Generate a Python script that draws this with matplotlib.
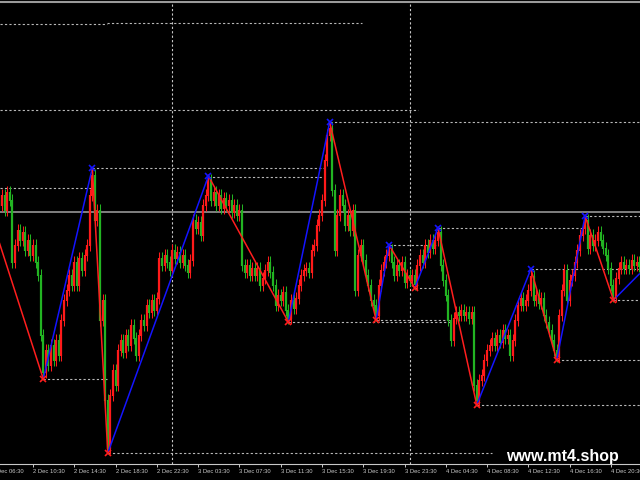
import matplotlib
matplotlib.use("Agg")
import matplotlib.pyplot as plt
import numpy as np

# ---------------- data ----------------
# bar index k: time = 2 Dec 06:30 + 15 min * k (M15 bars, with session gaps)
first_bar = 2
closes = [
    280, 275, 285, 270, 288, 280, 218, 235, 250, 240, 248, 230, 240, 225, 235, 218, 205, 145,   # k2-19
    108, 130, 115, 135, 120, 140, 125, 160, 180, 190, 205, 195, 218, 195, 222, 210, 225, 235,   # k20-37
    285, 305, 260, 270, 160, 180, 80, 32, 85, 110, 95, 130, 140, 128, 145, 135, 155, 142,       # k38-55
    125, 145, 160, 155, 175, 168, 180, 170, 182, 222, 215, 225, 218, 210, 230, 222, 228, 218,   # k56-73
    225, 215, 208, 220, 260, 252, 258, 245, 275, 285, 300, 280, 288, 275, 285, 272, 282, 275,   # k74-91
    280, 268, 275, 265, 270, 215, 208, 215, 205, 212, 205, 212, 195, 202, 210, 218, 208, 195,   # k92-109
    175, 185, 180, 188, 170, 162, 180, 172, 182, 195, 205, 210, 212, 208, 230, 235, 255, 265,   # k110-127
    280, 320, 345, 352, 290, 230, 265, 285, 275, 255, 265, 250, 270, 190, 225, 235, 220, 205,   # k128-145
    195, 180, 175, 165, 195, 210, 218, 225, 230, 218, 205, 215, 210, 218, 198, 205, 200, 205,   # k146-163
    196, 215, 225, 218, 235, 228, 240, 232, 240, 248, 215, 200, 185, 160, 140, 162, 168, 165,   # k164-181
    170, 165, 168, 162, 168, 95, 80, 100, 105, 120, 130, 135, 142, 135, 145, 138, 150, 142,     # k182-199
    145, 125, 140, 160, 175, 182, 175, 180, 190, 204, 180, 185, 177, 182, 165, 158, 150, 140,   # k200-217
    130, 124, 165, 190, 210, 180, 200, 205, 218, 230, 245, 252, 260, 232, 245, 235, 240, 248,   # k218-235
    240, 232, 225, 212, 195, 184, 202, 212, 218, 212, 215, 212, 220, 215, 218, 214,             # k236-251
]

# zigzag pivots (bar index, price)
zz_bars = [-4, 20, 39, 45, 84, 115, 131, 149, 154, 164, 173, 188, 209, 219, 230, 241, 251]
zz_price = [293, 101, 312, 27, 304, 158, 358, 160, 235, 192, 252, 75, 211, 120, 264, 180, 206]

# zigzag level lines: price, start bar, end bar
lvl_price = [456, 457, 370, 358, 312, 303, 292, 252, 264, 235, 192, 158, 160, 211, 180, 120, 101, 75, 27]
lvl_start = [3.2, 44.7, 3.2, 131, 39, 84, 3.2, 173, 230, 154, 164, 115, 149, 209, 241, 219, 20, 188, 45]
lvl_end = [44.7, 143.5, 165.2, 252, 129.2, 129.2, 39, 230, 252, 173, 174, 177.6, 177.6, 252, 252, 252, 44.7, 252, 193.9]

hline_price = 268          # grey horizontal line
day_separators = [70, 162]  # 3 Dec 00:00, 4 Dec 00:00

tick_bars = [0, 16, 32, 48, 64, 80, 96, 112, 128, 144, 160, 176, 192, 208, 224, 240]
tick_labels = ["2 Dec 06:30", "2 Dec 10:30", "2 Dec 14:30", "2 Dec 18:30", "2 Dec 22:30",
               "3 Dec 03:30", "3 Dec 07:30", "3 Dec 11:30", "3 Dec 15:30", "3 Dec 19:30",
               "3 Dec 23:30", "4 Dec 04:30", "4 Dec 08:30", "4 Dec 12:30", "4 Dec 16:30",
               "4 Dec 20:30"]

# ---------------- figure ----------------
fig = plt.figure(figsize=(6.4, 4.8), dpi=100, facecolor="black")
ax = fig.add_axes([0, 16 / 480, 1, 462 / 480], facecolor="black")

c = np.array(closes, dtype=float)
k = np.arange(first_bar, first_bar + len(c))
o = np.concatenate([[c[0]], c[:-1]])
wick = 6
hi = np.maximum(o, c) + wick
lo = np.minimum(o, c) - wick
up = c >= o
RED = "#ff1a1a"
GREEN = "#22b422"
cols = np.where(up, RED, GREEN)

ax.vlines(k, lo, hi, colors=cols, linewidth=0.75, zorder=2)
ax.vlines(k, np.minimum(o, c) - 0.5, np.maximum(o, c) + 0.5, colors=cols, linewidth=1.6, zorder=2)

# level lines
for p, s, e in zip(lvl_price, lvl_start, lvl_end):
    ax.hlines(p, s, e, colors="#b8b8b8", linewidth=0.8, linestyles=(0, (2, 2)), zorder=1)

# day separators
for d in day_separators:
    ax.axvline(d, color="#c8c8c8", linewidth=0.8, linestyle=(0, (2, 2)), zorder=1)

# grey horizontal line
ax.axhline(hline_price, color="#8a8a8a", linewidth=1.3, zorder=1.5)

# zigzag
for i in range(len(zz_bars) - 1):
    col = "#1414ff" if zz_price[i + 1] > zz_price[i] else "#ff1e1e"
    ax.plot(zz_bars[i:i + 2], zz_price[i:i + 2], color=col, linewidth=1.1, zorder=3)
for b, p, i in zip(zz_bars[1:-1], zz_price[1:-1], range(1, len(zz_bars) - 1)):
    high = p > zz_price[i - 1]
    ax.plot(b, p, marker="x", color="#1414ff" if high else "#ff1e1e", markersize=5, mew=1.2, zorder=4)

ax.set_yticks([])
ax.set_xticks(tick_bars[1:])
ax.set_xticklabels(tick_labels[1:], ha="left", fontsize=4.2, color="#c8c8c8", family="Liberation Sans")
ax.tick_params(axis="x", direction="out", length=2.5, width=0.7, color="#c8c8c8", pad=1.2)
ax.set_xlim((0 + 8.3) / 2.58, (640 + 8.3) / 2.58)
ax.set_ylim(16, 478)
for s in ["left", "right"]:
    ax.spines[s].set_visible(False)
ax.spines["bottom"].set_color("#c8c8c8")
ax.spines["bottom"].set_linewidth(0.8)
ax.spines["top"].set_color("#9a9a9a")
ax.spines["top"].set_linewidth(1.5)

# first label, partly outside the window as in the terminal
ax.annotate(tick_labels[0], xy=(tick_bars[0], 0), xycoords=("data", "axes fraction"),
            xytext=(0, -3.7), textcoords="offset points", ha="left", va="top",
            fontsize=4.2, color="#c8c8c8", family="Liberation Sans", annotation_clip=False)

fig.text(562 / 640, 1 - 456 / 480, "www.mt4.shop", color="white", fontsize=11.5,
         fontweight="bold", family="Liberation Sans", ha="center", va="center")

fig.savefig("out.png", dpi=100, facecolor="black")
